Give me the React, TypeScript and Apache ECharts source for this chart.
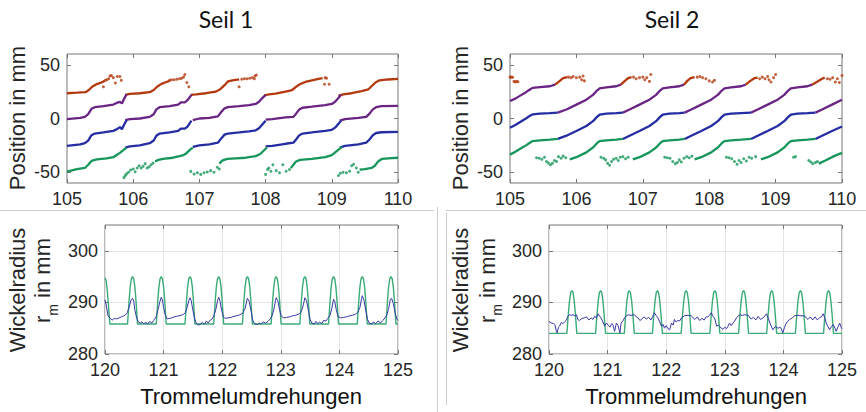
import React, { useEffect, useRef } from "react";
import * as echarts from "echarts";

// ---------- Seil 1 (top left) ----------
const S1_RED = [
  [[105.0,23.5],[105.15,24],[105.28,24.5],[105.33,26.5],[105.38,29.5],[105.45,32],[105.52,33.5],[105.57,35]],
  [[105.88,22],[105.95,23],[106.1,23.5],[106.25,24.5],[106.31,26.5],[106.36,29.5],[106.42,32],[106.48,33.5],[106.55,35]],
  [[106.87,22],[106.95,22.5],[107.1,23.5],[107.25,25],[107.32,27.5],[107.38,31],[107.43,34.5],[107.5,35.5],[107.6,36.5]],
  [[107.98,21.5],[108.05,22.5],[108.15,23.2],[108.3,25],[108.4,26.5],[108.46,29.5],[108.52,32],[108.6,34],[108.7,35.5],[108.8,36.8],[108.86,37.5]],
  [[109.1,21],[109.17,22.5],[109.3,23.5],[109.45,25.5],[109.55,27],[109.6,30],[109.66,33.5],[109.72,35.5],[109.85,36.3],[110.0,36.8]],
];
const S1_RED_DOTS = [
  [105.55,29.5],[105.58,35.5],[105.6,36],[105.63,37],[105.65,39.5],[105.67,40],[105.7,38],[105.73,33],[105.76,39],[105.8,39],[105.82,35.5],
  [106.55,35.5],[106.58,36],[106.62,36],[106.66,36.5],[106.7,37],[106.73,37.5],[106.76,38.5],[106.78,41],[106.81,33.5],[106.84,29.5],
  [107.6,29.5],[107.64,36.5],[107.68,37],[107.72,37],[107.76,37.5],[107.8,38],[107.83,37],[107.84,39.5],[107.86,40.5],
  [108.89,31.8],[108.9,38],[108.92,37.5],[108.96,31.8],
];
const S1_PURPLE = [
  [[105.0,-0.5],[105.2,0.5],[105.27,1.5],[105.32,4],[105.37,9],[105.42,10.5],[105.55,11.5],[105.7,13],[105.75,14.5],[105.8,15.5],[105.83,14],[105.86,18],[105.9,22.5]],
  [[105.88,-1.5],[105.95,-0.5],[106.1,0],[106.25,1.5],[106.31,4],[106.35,8.5],[106.4,10.5],[106.55,11.5],[106.68,13],[106.72,15],[106.78,15],[106.82,17],[106.88,22]],
  [[106.9,-1.5],[107.0,0],[107.15,0.5],[107.28,2],[107.33,6],[107.38,9.5],[107.43,10.5],[107.6,11.5],[107.75,12.5],[107.85,13.5],[107.9,15.5],[107.95,19],[108.0,22]],
  [[108.0,-1],[108.1,-0.5],[108.3,1],[108.42,1.5],[108.46,4.5],[108.51,8.5],[108.56,10],[108.7,11],[108.9,12.5],[109.0,13.5],[109.05,15.5],[109.1,19],[109.14,22]],
  [[109.12,-2],[109.2,-0.5],[109.4,0.5],[109.52,1.5],[109.57,4.5],[109.62,8.5],[109.67,10.5],[109.75,11.5],[110.0,11.8]],
];
const S1_BLUE = [
  [[105.0,-25.5],[105.2,-24],[105.27,-23],[105.32,-20.5],[105.37,-15.5],[105.42,-14],[105.55,-13],[105.7,-11.5],[105.75,-10],[105.8,-8],[105.83,-10],[105.86,-6],[105.9,-1.5]],
  [[105.88,-27],[105.95,-26],[106.1,-25],[106.25,-23],[106.31,-20.5],[106.35,-16],[106.4,-14],[106.55,-13],[106.68,-11.5],[106.72,-9.5],[106.78,-9.5],[106.82,-7.5],[106.88,-2]],
  [[106.9,-26.5],[107.0,-25],[107.15,-24],[107.28,-22.5],[107.33,-18.5],[107.38,-15],[107.43,-14],[107.6,-13],[107.75,-12],[107.85,-11],[107.9,-9],[107.95,-5.5],[108.0,-2]],
  [[108.0,-26],[108.1,-25.5],[108.3,-23.5],[108.42,-22.5],[108.46,-19.5],[108.51,-15.5],[108.56,-14],[108.7,-13],[108.9,-11.5],[109.0,-10.5],[109.05,-8.5],[109.1,-5],[109.14,-2]],
  [[109.12,-27],[109.2,-25.5],[109.4,-24],[109.52,-22.5],[109.57,-19.5],[109.62,-15.5],[109.67,-13.5],[109.75,-12.8],[110.0,-12.5]],
];
const S1_GREEN = [
  [[105.0,-49.5],[105.15,-47],[105.27,-46],[105.32,-43],[105.37,-39.5],[105.45,-38],[105.6,-37],[105.7,-36],[105.75,-34],[105.8,-32],[105.86,-29],[105.9,-27]],
  [[106.33,-40],[106.38,-38.5],[106.45,-37.5],[106.6,-36.5],[106.7,-35],[106.76,-34],[106.8,-32.5],[106.86,-29],[106.9,-27]],
  [[107.3,-42],[107.35,-39],[107.42,-37.5],[107.55,-37],[107.7,-36.5],[107.85,-35],[107.92,-33],[107.97,-30],[108.02,-27]],
  [[108.38,-46],[108.42,-43],[108.46,-40],[108.52,-38.5],[108.7,-37.5],[108.9,-36],[109.0,-34],[109.06,-31],[109.12,-28],[109.15,-26.5]],
  [[109.42,-47.5],[109.5,-47],[109.6,-46],[109.65,-44],[109.7,-40],[109.76,-37.5],[109.9,-36.8],[110.0,-36.5]],
];
const S1_GREEN_DOTS = [
  [105.86,-55],[105.88,-53],[105.9,-51.5],[105.93,-50],[105.96,-48],[106.0,-47],[106.03,-49.5],[106.06,-46],[106.09,-44],[106.12,-46],[106.15,-44.5],[106.18,-42],[106.21,-46],[106.24,-45],[106.27,-43],[106.3,-41.5],
  [106.87,-49.2],[106.92,-51.7],[106.97,-50.5],[107.02,-52],[107.07,-50.5],[107.12,-49.8],[107.17,-48.5],[107.22,-50],[107.27,-45.4],[107.3,-47],
  [108.0,-52],[108.03,-47.5],[108.05,-46],[108.08,-49],[108.11,-43],[108.16,-48.5],[108.21,-50.5],[108.26,-43],[108.31,-49],[108.36,-47.5],
  [109.1,-53],[109.13,-51],[109.17,-50],[109.22,-50.5],[109.27,-49],[109.3,-44],[109.33,-42.5],[109.37,-46],[109.4,-50],
];

// ---------- Seil 2 (top right) ----------
const S2_RED = [
  [[105.68,31.5],[105.75,35],[105.8,37.5],[105.86,38.5]],
  [[106.67,31.5],[106.73,35],[106.78,37.5],[106.83,38.5]],
  [[107.62,31.5],[107.67,35],[107.72,37.5],[107.78,38.5]],
  [[108.55,31.5],[108.62,35],[108.68,37.5],[108.73,38]],
  [[109.55,31.5],[109.62,34],[109.7,37],[109.74,38]],
];
const S2_RED_DOTS = [
  [105.0,38.5],[105.02,38.5],[105.04,38.3],[105.06,34.5],[105.08,34],[105.1,34.5],[105.12,34.2],
  [105.88,38.5],[105.92,38],[105.95,39],[106.0,38],[106.05,38.5],[106.08,36],[106.1,39.5],[106.12,35],
  [106.86,38.5],[106.9,37],[106.95,38],[107.0,38.5],[107.03,36],[107.06,38],[107.1,34.5],[107.12,41],
  [107.82,38.5],[107.86,39],[107.9,38],[107.95,37],[108.0,35],[108.05,34],[108.08,35.5],
  [108.76,37],[108.8,38.5],[108.84,37],[108.88,39],[108.9,36],[108.93,34],[108.97,38],[109.0,41],
  [109.78,37],[109.82,36.5],[109.86,38],[109.9,34],[109.93,37],[109.96,33.5],[110.0,40],
];
const S2_PURPLE = [
  [[105.0,16.3],[105.08,18.5],[105.16,21.5],[105.24,24.5],[105.3,27],[105.34,28.5],[105.45,29.2],[105.6,30],[105.68,31.5]],
  [[105.72,5.5],[105.85,8.4],[106.0,12.9],[106.15,17.5],[106.25,22],[106.31,26],[106.35,28],[106.45,29],[106.6,30],[106.67,31.5]],
  [[106.7,5.5],[106.8,8.4],[106.95,12.9],[107.1,17.5],[107.2,22],[107.26,26],[107.3,28],[107.4,29],[107.55,30],[107.62,31.5]],
  [[107.63,5.5],[107.73,8.4],[107.88,12.9],[108.03,17.5],[108.13,22],[108.19,26],[108.23,28],[108.33,29],[108.48,30],[108.55,31.5]],
  [[108.63,5.5],[108.73,8.4],[108.88,12.9],[109.03,17.5],[109.13,22],[109.19,26],[109.23,28],[109.33,29],[109.48,30],[109.55,31.5]],
  [[109.6,5.5],[109.7,8.4],[109.85,12.9],[110.0,17.5]],
];
const S2_BLUE = [
  [[105.0,-8.6],[105.08,-6],[105.16,-3],[105.24,0],[105.3,2.5],[105.34,3.8],[105.45,4.5],[105.6,5],[105.72,5.5]],
  [[105.72,-19],[105.85,-16],[106.0,-11.6],[106.15,-7],[106.25,-2.5],[106.31,1.5],[106.35,3.5],[106.45,4.5],[106.6,5],[106.7,5.5]],
  [[106.7,-19],[106.8,-16],[106.95,-11.6],[107.1,-7],[107.2,-2.5],[107.26,1.5],[107.3,3.5],[107.4,4.5],[107.55,5],[107.63,5.5]],
  [[107.63,-19],[107.73,-16],[107.88,-11.6],[108.03,-7],[108.13,-2.5],[108.19,1.5],[108.23,3.5],[108.33,4.5],[108.48,5],[108.63,5.5]],
  [[108.63,-19],[108.73,-16],[108.88,-11.6],[109.03,-7],[109.13,-2.5],[109.19,1.5],[109.23,3.5],[109.33,4.5],[109.48,5],[109.6,5.5]],
  [[109.6,-19],[109.7,-16],[109.85,-11.6],[110.0,-7.5]],
];
const S2_GREEN = [
  [[105.0,-33.6],[105.08,-31],[105.16,-28],[105.24,-25],[105.3,-22.5],[105.34,-21],[105.45,-20.3],[105.6,-19.7],[105.72,-19]],
  [[105.9,-38],[106.0,-36],[106.15,-31.5],[106.25,-27],[106.31,-23],[106.35,-21],[106.45,-20.3],[106.6,-19.7],[106.7,-19]],
  [[106.85,-38],[106.95,-36],[107.1,-31.5],[107.2,-27],[107.26,-23],[107.3,-21],[107.4,-20.3],[107.55,-19.7],[107.63,-19]],
  [[107.78,-38],[107.88,-36],[108.03,-31.5],[108.13,-27],[108.19,-23],[108.23,-21],[108.33,-20.3],[108.48,-19.7],[108.63,-19]],
  [[108.78,-38],[108.88,-36],[109.03,-31.5],[109.13,-27],[109.19,-23],[109.23,-21],[109.33,-20.3],[109.48,-19.7],[109.6,-19]],
  [[109.65,-42],[109.75,-39],[109.88,-35],[110.0,-32]],
];
const S2_GREEN_DOTS = [
  [105.4,-36.5],[105.44,-37],[105.48,-38],[105.52,-36],[105.55,-40],[105.58,-41.5],[105.61,-43],[105.64,-41.7],[105.67,-39],[105.7,-40],[105.73,-35.5],[105.77,-37],[105.8,-35],[105.84,-36.5],
  [106.37,-36],[106.41,-37],[106.44,-38.5],[106.47,-41.7],[106.5,-43.5],[106.53,-40],[106.56,-38],[106.6,-37],[106.63,-39],[106.66,-36],[106.7,-35.5],[106.74,-37.5],[106.78,-36],
  [107.33,-36],[107.37,-36.5],[107.41,-37],[107.45,-40],[107.49,-42],[107.52,-41],[107.55,-38.5],[107.58,-40.5],[107.62,-37],[107.66,-35.5],[107.7,-36.5],[107.74,-35],
  [108.26,-36],[108.3,-36.5],[108.34,-37.5],[108.38,-40],[108.42,-42.5],[108.45,-39],[108.48,-41],[108.52,-37.5],[108.56,-39.5],[108.6,-36],[108.64,-37],[108.7,-35.5],
  [109.27,-36],[109.3,-35.5],[109.5,-39],[109.53,-40.5],[109.56,-42],[109.6,-41],[109.63,-40],
];

// ---------- Wickelradius Seil 1 (bottom left) ----------
const W1_MODEL = [
  [120.0,294.8],[120.02,294.2],[120.04,292.2],[120.06,289.3],[120.075,286.8],[120.085,285.8],
  [120.385,285.8],[120.395,287.5],[120.41,290.2],[120.43,293],[120.45,294.6],[120.47,295],[120.49,294.6],[120.51,293],[120.53,290.2],[120.545,287.5],[120.555,285.8],
  [120.875,285.8],[120.885,287.5],[120.9,290.2],[120.92,293],[120.94,294.6],[120.96,295],[120.98,294.6],[121.0,293],[121.02,290.2],[121.035,287.5],[121.045,285.8],
  [121.365,285.8],[121.375,287.5],[121.39,290.2],[121.41,293],[121.43,294.6],[121.45,295],[121.47,294.6],[121.49,293],[121.51,290.2],[121.525,287.5],[121.535,285.8],
  [121.855,285.8],[121.865,287.5],[121.88,290.2],[121.9,293],[121.92,294.6],[121.94,295],[121.96,294.6],[121.98,293],[122.0,290.2],[122.015,287.5],[122.025,285.8],
  [122.345,285.8],[122.355,287.5],[122.37,290.2],[122.39,293],[122.41,294.6],[122.43,295],[122.45,294.6],[122.47,293],[122.49,290.2],[122.505,287.5],[122.515,285.8],
  [122.835,285.8],[122.845,287.5],[122.86,290.2],[122.88,293],[122.9,294.6],[122.92,295],[122.94,294.6],[122.96,293],[122.98,290.2],[122.995,287.5],[123.005,285.8],
  [123.325,285.8],[123.335,287.5],[123.35,290.2],[123.37,293],[123.39,294.6],[123.41,295],[123.43,294.6],[123.45,293],[123.47,290.2],[123.485,287.5],[123.495,285.8],
  [123.815,285.8],[123.825,287.5],[123.84,290.2],[123.86,293],[123.88,294.6],[123.9,295],[123.92,294.6],[123.94,293],[123.96,290.2],[123.975,287.5],[123.985,285.8],
  [124.305,285.8],[124.315,287.5],[124.33,290.2],[124.35,293],[124.37,294.6],[124.39,295],[124.41,294.6],[124.43,293],[124.45,290.2],[124.465,287.5],[124.475,285.8],
  [124.795,285.8],[124.805,287.5],[124.82,290.2],[124.84,293],[124.86,294.6],[124.88,295],[124.9,294.6],[124.92,293],[124.94,290.2],[124.955,287.5],[124.965,285.8],[125.0,285.8],
];
const W1_MEAS = [
  [120.0,290.5],[120.02,289.5],[120.05,287.5],[120.08,287.0],[120.1,286.8],[120.13,286.6],[120.16,286.9],[120.2,286.8],[120.24,287.0],[120.28,287.2],[120.32,287.4],[120.35,287.6],[120.38,288.0],[120.41,289.0],[120.44,290.3],[120.47,290.8],[120.49,290.3],[120.51,288.5],[120.54,287.0],[120.57,286.2],[120.6,286.0],[120.63,286.2],[120.66,285.9],[120.7,286.1],[120.73,285.8],[120.76,286.3],[120.8,286.0],[120.83,286.5],[120.86,287.0],[120.88,287.5],[120.91,288.8],[120.94,290.3],[120.96,291.0],[120.98,290.5],
  [121.0,289.0],[121.03,287.5],[121.06,286.8],[121.1,286.9],[121.14,287.0],[121.18,287.2],[121.22,287.3],[121.26,287.4],[121.3,287.5],[121.34,287.7],[121.37,288.0],[121.4,289.0],[121.43,290.3],[121.45,290.9],[121.47,290.4],[121.5,288.5],[121.53,286.8],[121.56,285.9],[121.6,285.6],[121.63,285.8],[121.66,286.1],[121.7,285.8],[121.73,286.4],[121.76,286.0],[121.8,286.6],[121.83,286.8],[121.86,287.5],[121.89,288.6],[121.92,290.3],[121.94,291.0],[121.96,290.4],[121.99,288.5],
  [122.02,287.2],[122.05,286.9],[122.1,287.0],[122.15,287.1],[122.2,287.3],[122.25,287.4],[122.3,287.6],[122.35,287.9],[122.39,288.8],[122.42,290.3],[122.43,290.8],[122.46,290.2],[122.49,288.5],[122.52,286.6],[122.55,285.9],[122.6,285.7],[122.63,286.0],[122.66,285.8],[122.7,286.2],[122.74,286.0],[122.78,286.3],[122.82,286.8],[122.85,287.4],[122.88,288.5],[122.9,289.8],[122.92,290.9],[122.95,290.3],[122.98,288.5],
  [123.01,287.3],[123.05,287.0],[123.1,287.1],[123.15,287.2],[123.2,287.4],[123.25,287.5],[123.3,287.7],[123.34,288.0],[123.37,288.9],[123.4,290.3],[123.41,290.9],[123.44,290.3],[123.47,288.5],[123.5,286.7],[123.53,286.0],[123.57,285.8],[123.6,286.3],[123.63,285.9],[123.66,286.2],[123.7,285.9],[123.73,286.5],[123.77,286.4],[123.8,286.9],[123.84,287.5],[123.87,288.8],[123.9,290.6],[123.92,290.2],[123.95,288.4],[123.98,287.2],
  [124.02,287.0],[124.07,287.1],[124.12,287.2],[124.17,287.4],[124.22,287.5],[124.27,287.7],[124.31,288.0],[124.35,289.0],[124.38,290.8],[124.39,291.3],[124.42,290.4],[124.45,288.4],[124.48,286.7],[124.51,286.0],[124.55,285.8],[124.58,286.2],[124.62,285.9],[124.66,286.4],[124.7,286.0],[124.74,286.5],[124.78,287.0],[124.81,287.6],[124.84,288.8],[124.87,290.6],[124.89,290.8],[124.92,289.8],[124.95,288.0],[124.98,286.8],[125.0,286.5],
];

// ---------- Wickelradius Seil 2 (bottom right) ----------
const W2_MODEL = [
  [120.0,284],
  [120.305,284],[120.315,285.5],[120.33,287.8],[120.35,290.3],[120.37,291.9],[120.39,292.3],[120.41,291.9],[120.43,290.3],[120.45,287.8],[120.465,285.5],[120.475,284],
  [120.795,284],[120.805,285.5],[120.82,287.8],[120.84,290.3],[120.86,291.9],[120.88,292.3],[120.9,291.9],[120.92,290.3],[120.94,287.8],[120.955,285.5],[120.965,284],
  [121.285,284],[121.295,285.5],[121.31,287.8],[121.33,290.3],[121.35,291.9],[121.37,292.3],[121.39,291.9],[121.41,290.3],[121.43,287.8],[121.445,285.5],[121.455,284],
  [121.765,284],[121.775,285.5],[121.79,287.8],[121.81,290.3],[121.83,291.9],[121.85,292.3],[121.87,291.9],[121.89,290.3],[121.91,287.8],[121.925,285.5],[121.935,284],
  [122.255,284],[122.265,285.5],[122.28,287.8],[122.3,290.3],[122.32,291.9],[122.34,292.3],[122.36,291.9],[122.38,290.3],[122.4,287.8],[122.415,285.5],[122.425,284],
  [122.745,284],[122.755,285.5],[122.77,287.8],[122.79,290.3],[122.81,291.9],[122.83,292.3],[122.85,291.9],[122.87,290.3],[122.89,287.8],[122.905,285.5],[122.915,284],
  [123.235,284],[123.245,285.5],[123.26,287.8],[123.28,290.3],[123.3,291.9],[123.32,292.3],[123.34,291.9],[123.36,290.3],[123.38,287.8],[123.395,285.5],[123.405,284],
  [123.715,284],[123.725,285.5],[123.74,287.8],[123.76,290.3],[123.78,291.9],[123.8,292.3],[123.82,291.9],[123.84,290.3],[123.86,287.8],[123.875,285.5],[123.885,284],
  [124.205,284],[124.215,285.5],[124.23,287.8],[124.25,290.3],[124.27,291.9],[124.29,292.3],[124.31,291.9],[124.33,290.3],[124.35,287.8],[124.365,285.5],[124.375,284],
  [124.685,284],[124.695,285.5],[124.71,287.8],[124.73,290.3],[124.75,291.9],[124.77,292.3],[124.79,291.9],[124.81,290.3],[124.83,287.8],[124.845,285.5],[124.855,284],[125.0,284],
];
const W2_MEAS = [
  [120.0,286.3],[120.04,286.0],[120.08,285.9],[120.1,285.7],[120.125,284.4],[120.14,284.1],[120.16,285.2],[120.18,285.4],[120.21,286.1],[120.24,285.9],[120.27,286.3],[120.3,286.6],[120.32,287.3],[120.35,287.6],[120.38,287.5],[120.41,287.6],[120.44,287.4],[120.47,287.6],[120.49,286.7],[120.52,286.5],[120.55,286.8],[120.6,287.0],[120.64,287.2],[120.68,286.6],[120.72,287.0],[120.75,286.7],[120.78,287.3],[120.81,287.0],[120.84,287.8],[120.87,287.2],[120.89,287.0],[120.92,286.2],[120.95,285.4],[120.98,286.0],
  [121.01,285.6],[121.04,285.2],[121.07,285.9],[121.09,285.7],[121.12,284.4],[121.15,286.0],[121.18,285.5],[121.21,284.1],[121.23,286.0],[121.26,286.4],[121.29,287.0],[121.32,287.4],[121.35,287.6],[121.4,287.5],[121.46,287.6],[121.49,287.2],[121.52,287.0],[121.55,286.5],[121.58,286.7],[121.62,287.2],[121.66,286.8],[121.7,287.1],[121.74,286.6],[121.77,287.3],[121.8,288.0],[121.83,287.4],[121.86,287.0],[121.89,286.2],[121.92,285.4],[121.95,285.7],[121.97,285.0],
  [122.0,285.5],[122.03,284.9],[122.06,284.7],[122.09,286.0],[122.12,285.6],[122.14,286.7],[122.17,286.2],[122.2,286.5],[122.23,286.4],[122.26,287.0],[122.31,287.4],[122.37,287.5],[122.43,287.4],[122.46,287.0],[122.49,286.7],[122.53,287.2],[122.57,286.5],[122.61,286.9],[122.65,286.6],[122.68,287.2],[122.71,287.2],[122.74,287.5],[122.77,288.0],[122.8,287.3],[122.83,286.8],[122.86,285.4],[122.89,285.6],[122.91,285.4],[122.94,285.0],[122.97,284.8],
  [123.0,285.2],[123.03,284.9],[123.05,285.3],[123.08,286.0],[123.11,285.5],[123.14,286.0],[123.17,286.4],[123.2,287.0],[123.25,287.6],[123.3,287.5],[123.35,287.6],[123.4,287.5],[123.43,287.0],[123.45,286.8],[123.49,287.1],[123.53,286.6],[123.57,287.3],[123.61,286.7],[123.65,287.0],[123.68,287.3],[123.71,287.8],[123.74,287.0],[123.77,286.0],[123.8,285.2],[123.82,284.7],[123.86,285.3],[123.91,285.0],[123.94,285.2],[123.96,285.0],[123.99,284.1],
  [124.02,285.2],[124.05,286.0],[124.08,286.4],[124.11,286.7],[124.15,287.0],[124.19,287.4],[124.25,287.5],[124.3,287.4],[124.36,287.4],[124.39,287.0],[124.42,286.7],[124.46,287.2],[124.5,286.6],[124.54,287.2],[124.58,286.6],[124.62,287.1],[124.65,287.2],[124.68,287.8],[124.71,286.9],[124.73,286.0],[124.76,285.3],[124.79,284.7],[124.82,285.3],[124.85,285.7],[124.88,285.0],[124.9,284.4],[124.93,285.2],[124.96,286.0],[124.98,285.3],[125.0,284.9],
];

const TOP_TICKS = [-50, 0, 50];
const BOTTOM_TICKS = [280, 290, 300];
const TITLES = ["Seil 1", "Seil 2"];

const C_RED = "#b5390f";
const C_PURPLE = "#6a2484";
const C_BLUE = "#252da3";
const C_GREEN = "#16965a";
const C_MODEL = "#3bab78";
const C_MEAS = "#3838a8";
const BOX = "#777777";
const TXT = "#262626";
const FONT = "Liberation Sans, Arial, sans-serif";

const joinSegs = (segs: number[][][]) =>
  segs.flatMap((s, i) => (i ? [[s[0][0], null], ...s] : s));

const noLine = { show: false, onZero: false };

function xMain(gi: number, min: number, max: number, grid: boolean) {
  return {
    type: "value", gridIndex: gi, min, max, interval: 1, position: "bottom",
    axisLine: noLine,
    axisTick: { inside: true, length: 4, lineStyle: { color: BOX } },
    axisLabel: { color: TXT, fontSize: 18, fontFamily: FONT, margin: 7 },
    splitLine: { show: grid, lineStyle: { color: "#e4e4e4", width: 1 } },
  };
}
function xTop(gi: number, min: number, max: number) {
  return {
    type: "value", gridIndex: gi, min, max, interval: 1, position: "top",
    axisLine: noLine,
    axisTick: { inside: true, length: 4, lineStyle: { color: BOX } },
    axisLabel: { show: false }, splitLine: { show: false },
  };
}
function yMain(gi: number, min: number, max: number, ticks: number[], grid: boolean, interval?: number) {
  return {
    type: "value", gridIndex: gi, min, max, interval, position: "left",
    axisLine: noLine,
    axisTick: { inside: true, length: 4, lineStyle: { color: BOX }, customValues: ticks },
    axisLabel: { color: TXT, fontSize: 18, fontFamily: FONT, margin: 7, customValues: ticks },
    splitLine: { show: grid, lineStyle: { color: "#e4e4e4", width: 1 } },
  };
}
function yRight(gi: number, min: number, max: number, ticks: number[]) {
  return {
    type: "value", gridIndex: gi, min, max, position: "right",
    axisLine: noLine,
    axisTick: { inside: true, length: 4, lineStyle: { color: BOX }, customValues: ticks },
    axisLabel: { show: false }, splitLine: { show: false },
  };
}
function trace(xi: number, segs: number[][][], color: string) {
  return {
    type: "line", xAxisIndex: xi, yAxisIndex: xi, data: joinSegs(segs),
    showSymbol: false, symbol: "none", connectNulls: false, silent: true,
    lineStyle: { color, width: 2.3 },
  };
}
function dots(xi: number, data: number[][], color: string) {
  return {
    type: "scatter", xAxisIndex: xi, yAxisIndex: xi, data, symbolSize: 3, silent: true,
    itemStyle: { color },
  };
}
function curve(xi: number, data: number[][], color: string, width: number) {
  return {
    type: "line", xAxisIndex: xi, yAxisIndex: xi, data, showSymbol: false, symbol: "none",
    silent: true, lineStyle: { color, width },
  };
}

function rotText(text: string, x: number, y: number) {
  return {
    type: "text", x, y, rotation: Math.PI / 2, z: 100,
    style: { text, font: `22px ${FONT}`, fill: TXT, textAlign: "center", textVerticalAlign: "middle" },
  };
}
function rmLabel(x: number, y: number) {
  const f = `22px ${FONT}`;
  return {
    type: "group", x, y, rotation: Math.PI / 2, z: 100,
    children: [
      { type: "text", x: -40, y: 0, style: { text: "r", font: f, fill: TXT, textAlign: "left", textVerticalAlign: "middle" } },
      { type: "text", x: -32.7, y: 10, style: { text: "m", font: `14px ${FONT}`, fill: TXT, textAlign: "left", textVerticalAlign: "middle" } },
      { type: "text", x: -21, y: 0, style: { text: " in mm", font: f, fill: TXT, textAlign: "left", textVerticalAlign: "middle" } },
    ],
  };
}
function hText(text: string, x: number, y: number, font: string) {
  return {
    type: "text", x, y, z: 100,
    style: { text, font, fill: "#111111", textAlign: "center", textVerticalAlign: "middle" },
  };
}
function sep(x1: number, y1: number, x2: number, y2: number) {
  return { type: "line", z: 90, shape: { x1, y1, x2, y2 }, style: { stroke: "#cdcdcd", lineWidth: 1 } };
}

const gridBox = { show: true, borderColor: BOX, borderWidth: 1, backgroundColor: "#ffffff" };

const option = {
  animation: false,
  backgroundColor: "#ffffff",
  textStyle: { fontFamily: FONT },
  grid: [
    { ...gridBox, left: 67, top: 54, width: 331, height: 129 },
    { ...gridBox, left: 510, top: 54, width: 332, height: 129 },
    { ...gridBox, left: 105, top: 225, width: 293, height: 129 },
    { ...gridBox, left: 549, top: 225, width: 293, height: 129 },
  ],
  xAxis: [
    xMain(0, 105, 110, false), xMain(1, 105, 110, false), xMain(2, 120, 125, true), xMain(3, 120, 125, true),
    xTop(0, 105, 110), xTop(1, 105, 110), xTop(2, 120, 125), xTop(3, 120, 125),
  ],
  yAxis: [
    yMain(0, -60, 60, TOP_TICKS, false), yMain(1, -60, 60, TOP_TICKS, false),
    yMain(2, 280, 305, BOTTOM_TICKS, true, 10), yMain(3, 280, 305, BOTTOM_TICKS, true, 10),
    yRight(0, -60, 60, TOP_TICKS), yRight(1, -60, 60, TOP_TICKS),
    yRight(2, 280, 305, BOTTOM_TICKS), yRight(3, 280, 305, BOTTOM_TICKS),
  ],
  series: [
    trace(0, S1_RED, C_RED), dots(0, S1_RED_DOTS, C_RED),
    trace(0, S1_PURPLE, C_PURPLE), trace(0, S1_BLUE, C_BLUE),
    trace(0, S1_GREEN, C_GREEN), dots(0, S1_GREEN_DOTS, C_GREEN),
    trace(1, S2_RED, C_RED), dots(1, S2_RED_DOTS, C_RED),
    trace(1, S2_PURPLE, C_PURPLE), trace(1, S2_BLUE, C_BLUE),
    trace(1, S2_GREEN, C_GREEN), dots(1, S2_GREEN_DOTS, C_GREEN),
    curve(2, W1_MODEL, C_MODEL, 1.4), curve(2, W1_MEAS, C_MEAS, 1),
    curve(3, W2_MODEL, C_MODEL, 1.4), curve(3, W2_MEAS, C_MEAS, 1),
  ],
  graphic: [
    sep(0, 210.5, 434, 210.5), sep(446, 210.5, 866, 210.5),
    sep(437.5, 207, 437.5, 412), sep(446.5, 213, 446.5, 405),
    hText(TITLES[0], 226, 19, "23px Lato, Open Sans, sans-serif"),
    hText(TITLES[1], 672, 19, "23px Lato, Open Sans, sans-serif"),
    rotText("Position in mm", 17, 118), rotText("Position in mm", 460, 118),
    rotText("Wickelradius", 17, 290), rotText("Wickelradius", 460, 290),
    rmLabel(42.5, 283), rmLabel(487, 283),
    hText("Trommelumdrehungen", 251, 396, `22px ${FONT}`),
    hText("Trommelumdrehungen", 696, 396, `22px ${FONT}`),
  ],
};

export default function App() {
  const ref = useRef<HTMLDivElement>(null);
  useEffect(() => {
    const chart = echarts.init(ref.current, null, { renderer: "svg" });
    chart.setOption(option as any);
    return () => chart.dispose();
  }, []);
  return (
    <div
      ref={ref}
      style={{ position: "fixed", left: 0, top: 0, width: 866, height: 412, background: "#fff" }}
    />
  );
}
